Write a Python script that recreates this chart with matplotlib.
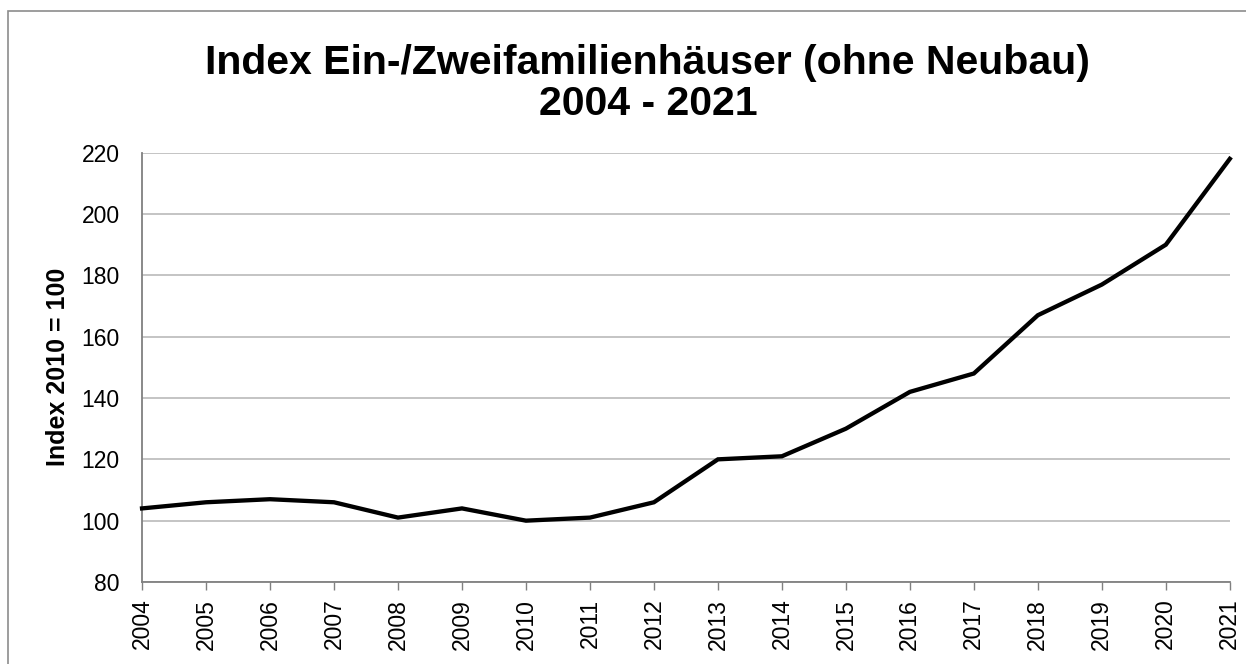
import matplotlib
matplotlib.use("Agg")
import matplotlib.pyplot as plt
from matplotlib.patches import Rectangle

plt.rcParams['font.family'] = ['Liberation Sans', 'DejaVu Sans']

# Data
years = [2004, 2005, 2006, 2007, 2008, 2009, 2010, 2011, 2012,
         2013, 2014, 2015, 2016, 2017, 2018, 2019, 2020, 2021]
index_values = [104, 106, 107, 106, 101, 104, 100, 101, 106,
                120, 121, 130, 142, 148, 167, 177, 190, 218]
y_ticks = [80, 100, 120, 140, 160, 180, 200, 220]

fig = plt.figure(figsize=(12.46, 6.64), dpi=100)
ax = fig.add_axes([0.114, 0.1235, 0.873, 0.6465])

# outer chart frame
fig.patches.append(Rectangle((8 / 1246, -0.01), 1.1, 1 - 11 / 664 + 0.01,
                             transform=fig.transFigure, fill=False,
                             edgecolor='#8c8c8c', linewidth=1.2))

ax.plot(years, index_values, color='black', linewidth=3.1,
        solid_joinstyle='miter', zorder=3, clip_on=False)

ax.set_xlim(2004, 2021)
ax.set_ylim(80, 220)
ax.set_yticks(y_ticks)
ax.set_xticks(years)
ax.set_xticklabels([str(y) for y in years], rotation=90)
ax.tick_params(axis='x', length=6, width=1, color='#808080', labelsize=16.5, pad=6)
ax.tick_params(axis='y', length=0, labelsize=16.5, pad=16)

ax.grid(axis='y', color='#bfbfbf', linewidth=1.3)
ax.set_axisbelow(True)
for s in ['top', 'right']:
    ax.spines[s].set_visible(False)
for s in ['left', 'bottom']:
    ax.spines[s].set_color('#808080')
    ax.spines[s].set_linewidth(1.3)

ax.set_ylabel('Index 2010 = 100', fontsize=18, fontweight='bold', labelpad=8)
fig.text(0.52, 0.905, 'Index Ein-/Zweifamilienhäuser (ohne Neubau)',
         ha='center', va='center', fontsize=29.5, fontweight='bold')
fig.text(0.52, 0.843, '2004 - 2021',
         ha='center', va='center', fontsize=29.5, fontweight='bold')

fig.savefig('out.png', dpi=100)
